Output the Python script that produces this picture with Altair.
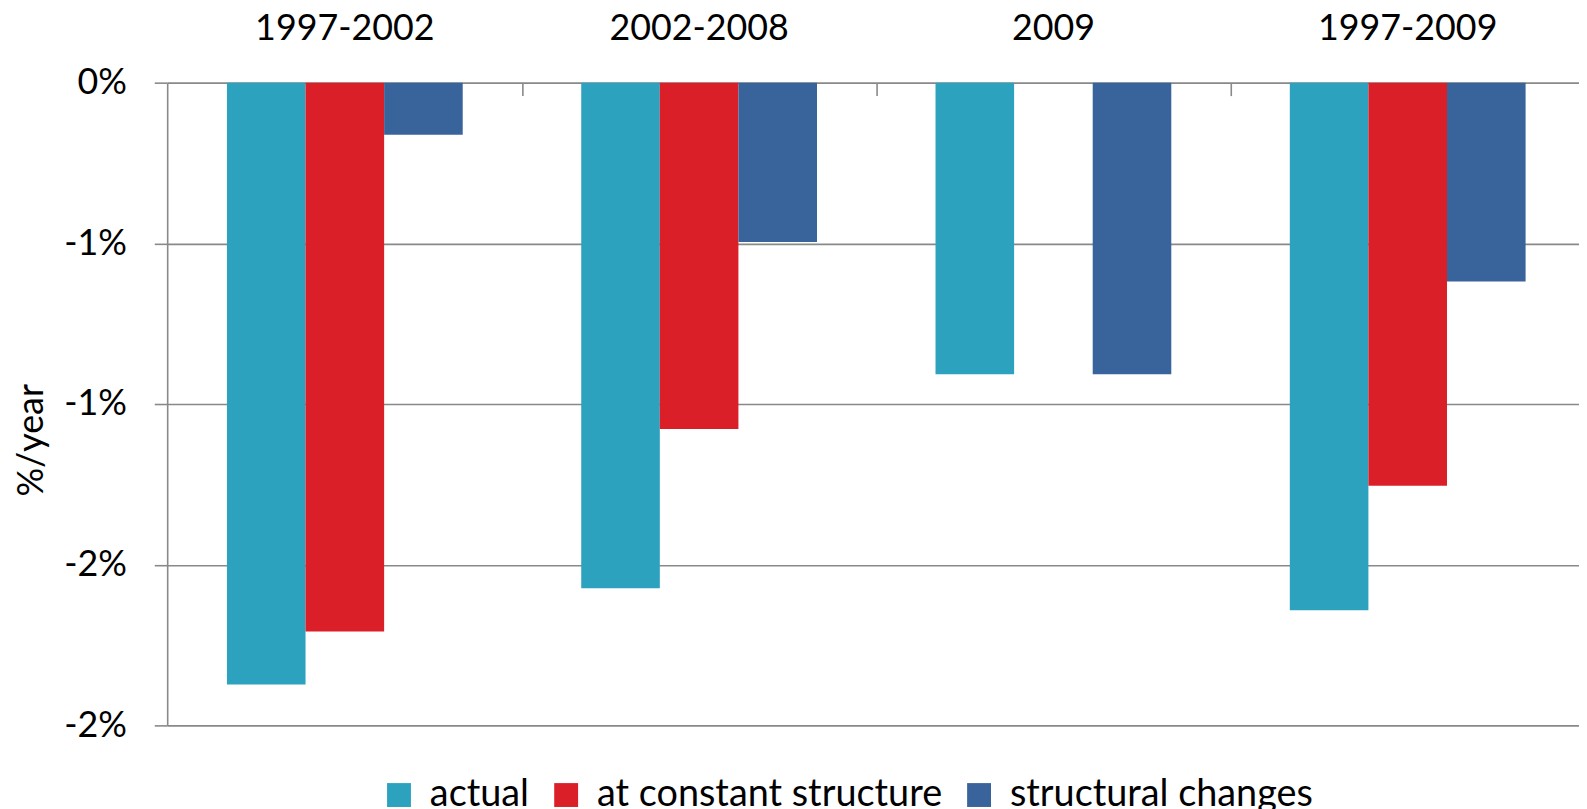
import altair as alt
import pandas as pd

# ---- data ----
periods = ["1997-2002", "2002-2008", "2009", "1997-2009"]
series = ["actual", "at constant structure", "structural changes"]
actual = [-1.873, -1.573, -0.907, -1.642]
constant_structure = [-1.708, -1.078, None, -1.254]
structural_changes = [-0.162, -0.496, -0.907, -0.619]
colors = ["#2ca2bf", "#da1f28", "#39649b"]
y_ticks = [0, -0.5, -1, -1.5, -2]
y_tick_labels = ["0%", "-1%", "-1%", "-2%", "-2%"]

rows = []
for name, vals in zip(series, [actual, constant_structure, structural_changes]):
    for p, v in zip(periods, vals):
        if v is not None:
            rows.append({"period": p, "series": name, "value": v})
df = pd.DataFrame(rows)

label_expr = "''"
for v, lab in zip(y_ticks, y_tick_labels):
    label_expr = f"datum.value == {v} ? '{lab}' : " + label_expr

FONT = "Lato"
GRAY = "#898989"
P_IN, P_OUT = 0.3345, 0.1597

x_scale = alt.Scale(domain=periods, paddingInner=P_IN, paddingOuter=P_OUT, align=0.528)

y_enc = alt.Y(
    "value:Q",
    scale=alt.Scale(domain=[-2, 0], nice=False, zero=False),
    axis=alt.Axis(
        title="%/year", values=y_ticks, labelExpr=label_expr,
        labelFontSize=36, labelFont=FONT, labelColor="#000000", labelPadding=28,
        labelBaseline="middle",
        tickSize=13, tickColor=GRAY, tickWidth=1.6,
        domainColor=GRAY, domainWidth=1.6,
        grid=True, gridColor=GRAY, gridWidth=1.6,
        titleFontSize=36, titleFont=FONT, titleFontWeight="normal", titleColor="#000000",
        titleAngle=270, titleAlign="center", titleBaseline="middle",
        titleX=-136, titleY=359,
    ),
)

bars = alt.Chart(df).mark_bar().encode(
    x=alt.X(
        "period:N", sort=periods, scale=x_scale,
        axis=alt.Axis(
            orient="top", title=None, ticks=False, tickSize=0, domain=False, grid=False,
            labelFontSize=36, labelFont=FONT, labelColor="#000000", labelAngle=0,
            labelBaseline="alphabetic", labelPadding=43, labelLimit=0,
        ),
    ),
    xOffset=alt.XOffset("series:N", sort=series,
                        scale=alt.Scale(domain=series, paddingInner=0, paddingOuter=0)),
    y=y_enc,
    color=alt.Color(
        "series:N",
        scale=alt.Scale(domain=series, range=colors),
        legend=alt.Legend(
            orient="none", direction="horizontal", legendX=214, legendY=697,
            title=None, symbolType="square", symbolSize=576, symbolStrokeWidth=0,
            symbolOpacity=1, labelFontSize=38, labelFont=FONT, labelColor="#000000",
            labelOffset=12, columnPadding=18, padding=0, labelBaseline="middle",
            labelLimit=0,
        ),
    ),
)

ticks_layer = alt.Chart(df).mark_bar(opacity=0).encode(
    x=alt.X(
        "period:N", sort=periods, scale=x_scale,
        axis=alt.Axis(
            orient="bottom", title=None, labels=False, domain=False, grid=False,
            ticks=True, tickBand="center", tickOffset=178, tickSize=13,
            tickColor=GRAY, tickWidth=1.6, offset=-646,
        ),
    ),
    y=y_enc,
)

chart = (
    alt.layer(bars, ticks_layer)
    .resolve_axis(x="independent")
    .properties(
        width=1419, height=646,
        autosize=alt.AutoSizeParams(type="none"),
        padding={"left": 160, "top": 73, "right": 0, "bottom": 82},
    )
    .configure(font=FONT)
    .configure_scale(
        bandPaddingInner=P_IN, bandPaddingOuter=P_OUT,
        bandWithNestedOffsetPaddingInner=P_IN, bandWithNestedOffsetPaddingOuter=P_OUT,
    )
    .configure_view(stroke=None)
)

chart.save("out.html", embed_options={"renderer": "svg", "actions": False})
